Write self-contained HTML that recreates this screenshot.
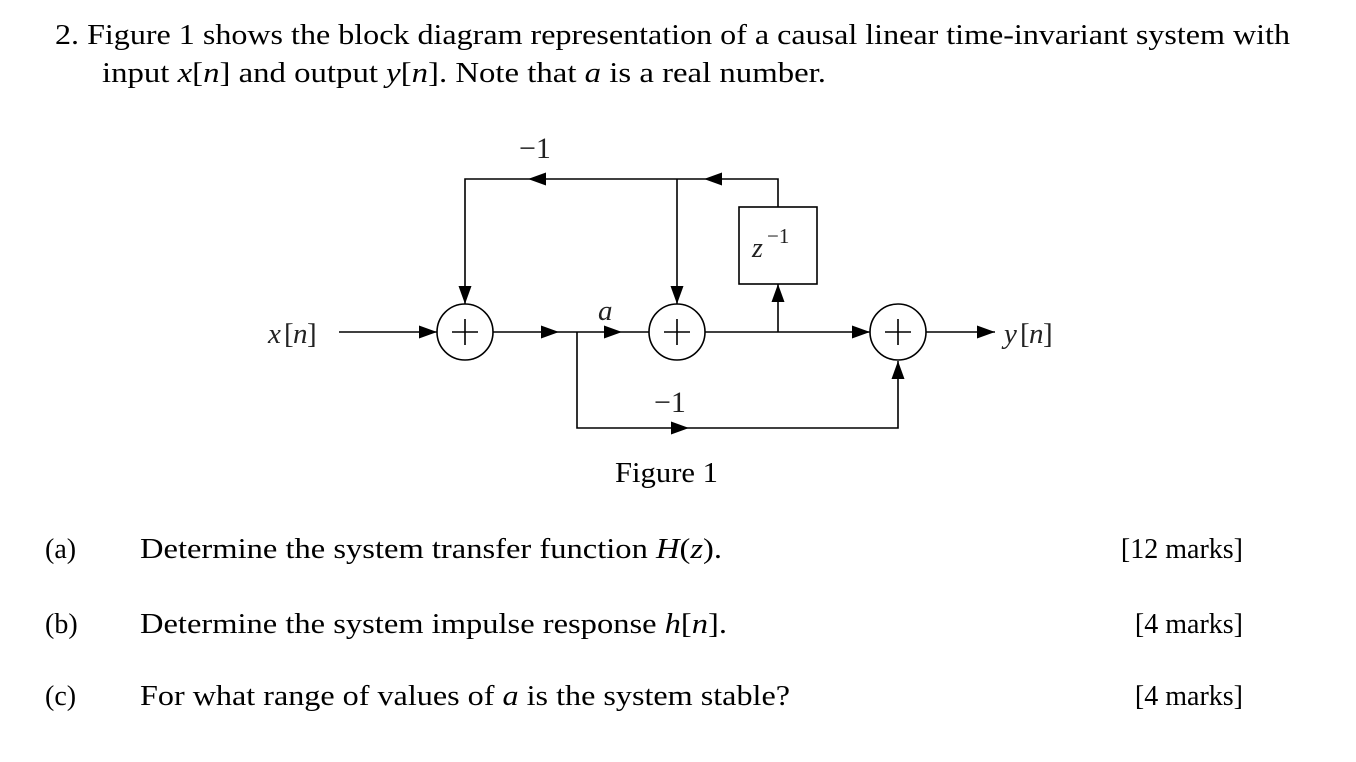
<!DOCTYPE html>
<html><head><meta charset="utf-8"><style>
html,body{margin:0;padding:0;background:#fff;}
svg{display:block;}
.t{font-family:"Liberation Serif",serif;font-size:28px;fill:#000;}
.m{font-family:"Liberation Serif",serif;font-style:italic;fill:#222;}
.r{font-family:"Liberation Serif",serif;fill:#222;}
</style></head><body>
<svg width="1356" height="762" viewBox="0 0 1356 762" xmlns="http://www.w3.org/2000/svg">
<text class="t" x="55" y="44" textLength="1235" lengthAdjust="spacingAndGlyphs">2.  Figure 1 shows the block diagram representation of a causal linear time-invariant system with</text>
<text class="t" x="102" y="82" textLength="724" lengthAdjust="spacingAndGlyphs">input <tspan font-style="italic">x</tspan>[<tspan font-style="italic">n</tspan>] and output <tspan font-style="italic">y</tspan>[<tspan font-style="italic">n</tspan>]. Note that <tspan font-style="italic">a</tspan> is a real number.</text>

<g stroke="#000" stroke-width="1.6" fill="none">
<line x1="339" y1="332" x2="437" y2="332"/>
<line x1="493" y1="332" x2="649" y2="332"/>
<line x1="705" y1="332" x2="870" y2="332"/>
<line x1="926" y1="332" x2="995" y2="332"/>
<polyline points="465,304 465,179 778,179 778,207"/>
<line x1="677" y1="179" x2="677" y2="304"/>
<line x1="778" y1="332" x2="778" y2="284"/>
<polyline points="577,332 577,428 898,428 898,361"/>
<rect x="739" y="207" width="78" height="77"/>
<circle cx="465" cy="332" r="28"/>
<circle cx="677" cy="332" r="28"/>
<circle cx="898" cy="332" r="28"/>
<path d="M465 319V345M452 332H478M677 319V345M664 332H690M898 319V345M885 332H911"/>
</g>
<g fill="#000">
<path d="M437 332l-18-6.5v13z"/>
<path d="M559 332l-18-6.5v13z"/>
<path d="M622 332l-18-6.5v13z"/>
<path d="M870 332l-18-6.5v13z"/>
<path d="M995 332l-18-6.5v13z"/>
<path d="M465 304l-6.5-18h13z"/>
<path d="M677 304l-6.5-18h13z"/>
<path d="M528 179l18-6.5v13z"/>
<path d="M704 179l18-6.5v13z"/>
<path d="M778 284l-6.5 18h13z"/>
<path d="M689 428l-18-6.5v13z"/>
<path d="M898 361l-6.5 18h13z"/>
</g>
<text class="m" x="268" y="343" font-size="29">x</text><text class="r" x="284" y="343" font-size="29">[</text><text class="m" x="293" y="343" font-size="29">n</text><text class="r" x="307" y="343" font-size="29">]</text>
<text class="m" x="1004" y="343" font-size="29">y</text><text class="r" x="1020" y="343" font-size="29">[</text><text class="m" x="1029" y="343" font-size="29">n</text><text class="r" x="1043" y="343" font-size="29">]</text>
<text class="m" x="598" y="320" font-size="29">a</text>
<text class="r" x="519" y="158" font-size="30">−1</text>
<text class="r" x="654" y="412" font-size="30">−1</text>
<text class="m" x="752" y="257" font-size="28">z</text><text class="r" x="767" y="243" font-size="21">−1</text>
<text class="t" x="615" y="482" textLength="103" lengthAdjust="spacingAndGlyphs">Figure 1</text>

<text class="t" x="45" y="558">(a)</text>
<text class="t" x="140" y="558" textLength="582" lengthAdjust="spacingAndGlyphs">Determine the system transfer function <tspan font-style="italic">H</tspan>(<tspan font-style="italic">z</tspan>).</text>
<text class="t" x="1243" y="558" text-anchor="end">[12 marks]</text>
<text class="t" x="45" y="633">(b)</text>
<text class="t" x="140" y="633" textLength="587" lengthAdjust="spacingAndGlyphs">Determine the system impulse response <tspan font-style="italic">h</tspan>[<tspan font-style="italic">n</tspan>].</text>
<text class="t" x="1243" y="633" text-anchor="end">[4 marks]</text>
<text class="t" x="45" y="705">(c)</text>
<text class="t" x="140" y="705" textLength="650" lengthAdjust="spacingAndGlyphs">For what range of values of <tspan font-style="italic">a</tspan> is the system stable?</text>
<text class="t" x="1243" y="705" text-anchor="end">[4 marks]</text>
</svg>
</body></html>
